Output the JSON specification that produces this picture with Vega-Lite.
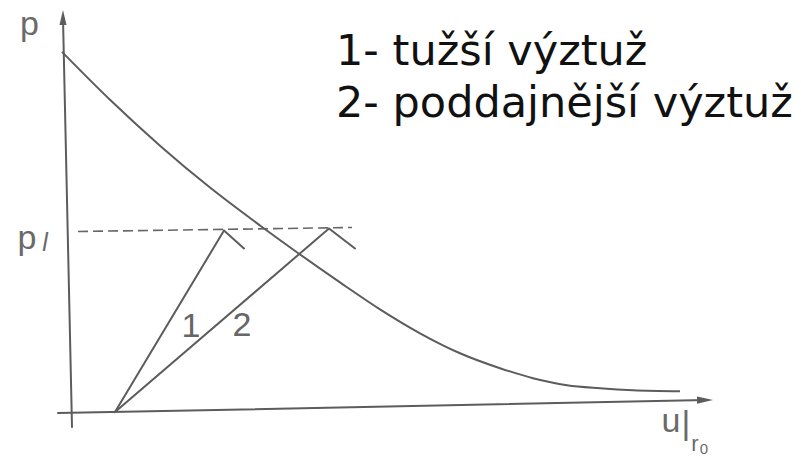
{
  "$schema": "https://vega.github.io/schema/vega-lite/v6.json",
  "width": 801,
  "height": 457,
  "padding": 0,
  "autosize": {"type": "fit", "contains": "padding"},
  "background": "white",
  "config": {"view": {"stroke": null}, "font": "Liberation Sans"},
  "datasets": {
    "paths": [
      {"path": "axis_p", "i": 0, "u": -0.8, "p": 39.5},
      {"path": "axis_p", "i": 1, "u": 0.1, "p": -1.5},
      {"path": "axis_u", "i": 0, "u": -1.3, "p": -0.1},
      {"path": "axis_u", "i": 1, "u": 63.5, "p": 1.2},
      {"path": "line1", "i": 0, "u": 4.4, "p": 0.0},
      {"path": "line1", "i": 1, "u": 15.3, "p": 18.2},
      {"path": "line1", "i": 2, "u": 17.3, "p": 16.4},
      {"path": "line2", "i": 0, "u": 4.4, "p": 0.0},
      {"path": "line2", "i": 1, "u": 25.8, "p": 18.4},
      {"path": "line2", "i": 2, "u": 28.4, "p": 16.4},
      {"path": "pl", "i": 0, "u": 0.7, "p": 18.1},
      {"path": "pl", "i": 1, "u": 28.1, "p": 18.5}
    ],
    "curve": [
      {"u": -0.9, "p": 36.1},
      {"u": 3.9, "p": 31.3},
      {"u": 8.9, "p": 26.7},
      {"u": 13.9, "p": 22.5},
      {"u": 18.9, "p": 18.7},
      {"u": 22.9, "p": 15.8},
      {"u": 26.9, "p": 13.0},
      {"u": 30.9, "p": 10.3},
      {"u": 34.9, "p": 7.9},
      {"u": 38.9, "p": 5.9},
      {"u": 42.9, "p": 4.4},
      {"u": 46.2, "p": 3.4},
      {"u": 49.6, "p": 2.7},
      {"u": 52.9, "p": 2.4},
      {"u": 56.2, "p": 2.2},
      {"u": 60.9, "p": 2.1}
    ],
    "arrows": [
      {"dir": "up", "u": -0.8, "p": 39.55},
      {"dir": "right", "u": 63.4, "p": 1.2}
    ],
    "labels": [
      {"role": "legend", "text": "1- tužší výztuž", "u": 26.5, "p": 34.8},
      {"role": "legend", "text": "2- poddajnější výztuž", "u": 26.5, "p": 29.6},
      {"role": "num", "text": "1", "u": 12.0, "p": 7.5},
      {"role": "num", "text": "2", "u": 17.1, "p": 7.6},
      {"role": "axis", "text": "p", "u": -4.15, "p": 37.8},
      {"role": "axis", "text": "p", "u": -4.4, "p": 16.3},
      {"role": "axis", "text": "u", "u": 60.0, "p": -2.0},
      {"role": "axis", "text": "|", "u": 61.5, "p": -2.2},
      {"role": "sub", "text": "l", "u": -2.6, "p": 16.1},
      {"role": "subr", "text": "r", "u": 62.4, "p": -3.9},
      {"role": "subsub", "text": "0", "u": 63.3, "p": -4.2}
    ]
  },
  "encoding": {
    "x": {"field": "u", "type": "quantitative", "scale": {"domain": [-7.1, 73.0], "nice": false, "zero": false}, "axis": null},
    "y": {"field": "p", "type": "quantitative", "scale": {"domain": [-4.4, 41.3], "nice": false, "zero": false}, "axis": null}
  },
  "layer": [
    {
      "data": {"name": "paths"},
      "transform": [{"filter": "datum.path !== 'pl'"}],
      "mark": {"type": "line", "color": "#5c5c5c", "strokeWidth": 2, "strokeCap": "round", "strokeJoin": "miter"},
      "encoding": {"detail": {"field": "path"}, "order": {"field": "i", "type": "quantitative"}}
    },
    {
      "data": {"name": "paths"},
      "transform": [{"filter": "datum.path === 'pl'"}],
      "mark": {"type": "line", "color": "#666666", "strokeWidth": 1.6, "strokeDash": [10, 5]},
      "encoding": {"order": {"field": "i", "type": "quantitative"}}
    },
    {
      "data": {"name": "curve"},
      "mark": {"type": "line", "color": "#5c5c5c", "strokeWidth": 2, "interpolate": "monotone"},
      "encoding": {}
    },
    {
      "data": {"name": "arrows"},
      "transform": [{"filter": "datum.dir === 'up'"}],
      "mark": {"type": "point", "shape": "M0,-1L0.47,1L-0.47,1Z", "size": 225, "filled": true, "color": "#5c5c5c", "opacity": 1}
    },
    {
      "data": {"name": "arrows"},
      "transform": [{"filter": "datum.dir === 'right'"}],
      "mark": {"type": "point", "shape": "M1,0L-1,-0.44L-1,0.44Z", "size": 256, "filled": true, "color": "#5c5c5c", "opacity": 1}
    },
    {
      "data": {"name": "labels"},
      "transform": [{"filter": "datum.role === 'legend'"}],
      "mark": {"type": "text", "align": "left", "baseline": "alphabetic", "font": "DejaVu Sans", "fontSize": 43, "color": "#111111"},
      "encoding": {"text": {"field": "text"}}
    },
    {
      "data": {"name": "labels"},
      "transform": [{"filter": "datum.role === 'num'"}],
      "mark": {"type": "text", "align": "center", "baseline": "alphabetic", "fontSize": 34, "color": "#666666"},
      "encoding": {"text": {"field": "text"}}
    },
    {
      "data": {"name": "labels"},
      "transform": [{"filter": "datum.role === 'axis'"}],
      "mark": {"type": "text", "align": "center", "baseline": "alphabetic", "fontSize": 34, "color": "#6a6a6a"},
      "encoding": {"text": {"field": "text"}}
    },
    {
      "data": {"name": "labels"},
      "transform": [{"filter": "datum.role === 'sub'"}],
      "mark": {"type": "text", "align": "center", "baseline": "alphabetic", "fontSize": 25, "fontStyle": "italic", "color": "#6a6a6a"},
      "encoding": {"text": {"field": "text"}}
    },
    {
      "data": {"name": "labels"},
      "transform": [{"filter": "datum.role === 'subr'"}],
      "mark": {"type": "text", "align": "center", "baseline": "alphabetic", "fontSize": 22, "color": "#6a6a6a"},
      "encoding": {"text": {"field": "text"}}
    },
    {
      "data": {"name": "labels"},
      "transform": [{"filter": "datum.role === 'subsub'"}],
      "mark": {"type": "text", "align": "center", "baseline": "alphabetic", "fontSize": 15, "color": "#6a6a6a"},
      "encoding": {"text": {"field": "text"}}
    }
  ]
}
